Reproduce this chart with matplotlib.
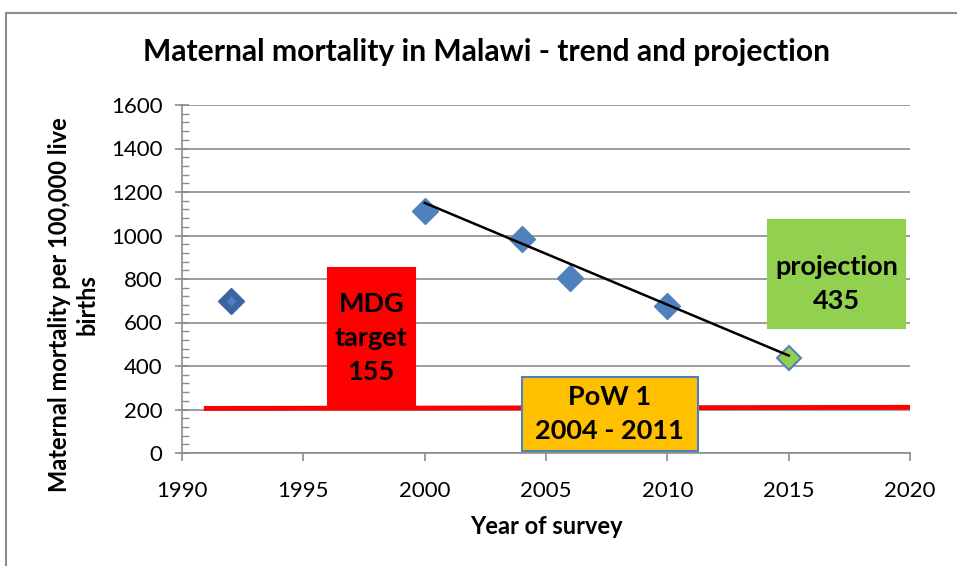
import numpy as np
import matplotlib as mpl
mpl.use('Agg')
import matplotlib.pyplot as plt
from matplotlib.patches import Rectangle
from matplotlib.ticker import MultipleLocator

mpl.rcParams['font.family'] = ['Lato', 'DejaVu Sans']

# survey data
years = [1992, 2000, 2004, 2006, 2010]
mmr = [697, 1112, 982, 806, 676]
proj_year = [2015]
proj_val = [435]

# trend line endpoints
trend_years = [2000, 2015]
trend_vals = [1150, 448]

# MDG target line
target_years = [1991, 2020]
target_vals = [205, 210]

# text boxes: (x0, x1, y0, y1), label, colour, edge, text y shift
boxes = [
    ((1996.0, 1999.6, 208, 850), 'MDG\ntarget\n155', '#ff0000', None, 0),
    ((2004.0, 2011.25, 9, 349), 'PoW 1\n2004 - 2011', '#ffc000', '#4f81bd', 0),
    ((2014.15, 2019.8, 575, 1071), 'projection\n435', '#92d050', None, -45),
]

fig = plt.figure(figsize=(9.57, 5.66), dpi=100)
ax = fig.add_axes([182/957, 1-453/566, (910-182)/957, (453-105)/566])

ax.set_xlim(1990, 2020)
ax.set_ylim(0, 1600)
ax.xaxis.set_major_locator(MultipleLocator(5))
ax.yaxis.set_major_locator(MultipleLocator(200))
ax.yaxis.set_minor_locator(MultipleLocator(40))
ax.grid(axis='y', color='#8c8c8c', lw=1.2, zorder=0)
for s in ['top', 'right']:
    ax.spines[s].set_visible(False)
for s in ['left', 'bottom']:
    ax.spines[s].set_color('#8c8c8c')
    ax.spines[s].set_linewidth(1.2)
ax.tick_params(axis='y', which='major', direction='inout', length=10, width=1.2, color='#8c8c8c', labelsize=16, pad=9)
ax.tick_params(axis='y', which='minor', direction='in', length=5, width=1, color='#8c8c8c')
ax.tick_params(axis='x', which='major', direction='out', length=6, width=1.2, color='#8c8c8c', labelsize=16, pad=14)

ax.plot(target_years, target_vals, color='#ff0000', lw=3.5, zorder=2)

for (x0, x1, y0, y1), label, fc, ec, dy in boxes:
    ax.add_patch(Rectangle((x0, y0), x1-x0, y1-y0, facecolor=fc,
                           edgecolor=ec if ec else fc, lw=1.5, zorder=3))
    ax.text((x0+x1)/2, (y0+y1)/2 + dy, label, ha='center', va='center',
            fontsize=19.5, fontweight='bold', linespacing=1.5, zorder=4)

ax.plot(years[:1], mmr[:1], 'D', ms=13, color='#3c64a0', mec='#3c64a0', zorder=5)
ax.plot(years[:1], mmr[:1], 'D', ms=5, color='#4f81bd', mec='none', zorder=6)
ax.plot(years[1:], mmr[1:], 'D', ms=13.5, color='#4f81bd', mec='#4f81bd', zorder=5)
ax.plot(proj_year, proj_val, 'D', ms=12, color='#92d050', mec='#4f81bd', mew=1.5, zorder=5)
ax.plot(trend_years, trend_vals, color='black', lw=1.8, zorder=6)

ax.set_xlabel('Year of survey', fontsize=17, fontweight='bold', labelpad=10)
fig.text(73/957, 1-305/566, 'Maternal mortality per 100,000 live\nbirths', rotation=90,
         ha='center', va='center', fontsize=17, fontweight='bold', linespacing=1.25)
fig.text(487/957, 1-52/566, 'Maternal mortality in Malawi - trend and projection',
         ha='center', va='center', fontsize=21.6, fontweight='bold')

# chart frame
fig.add_artist(plt.Line2D([6/957, 6/957], [0, 1-13/566], color='#8c8c8c', lw=1.5))
fig.add_artist(plt.Line2D([6/957, 1], [1-13/566, 1-13/566], color='#8c8c8c', lw=1.5))

fig.savefig('out.png', dpi=100)
